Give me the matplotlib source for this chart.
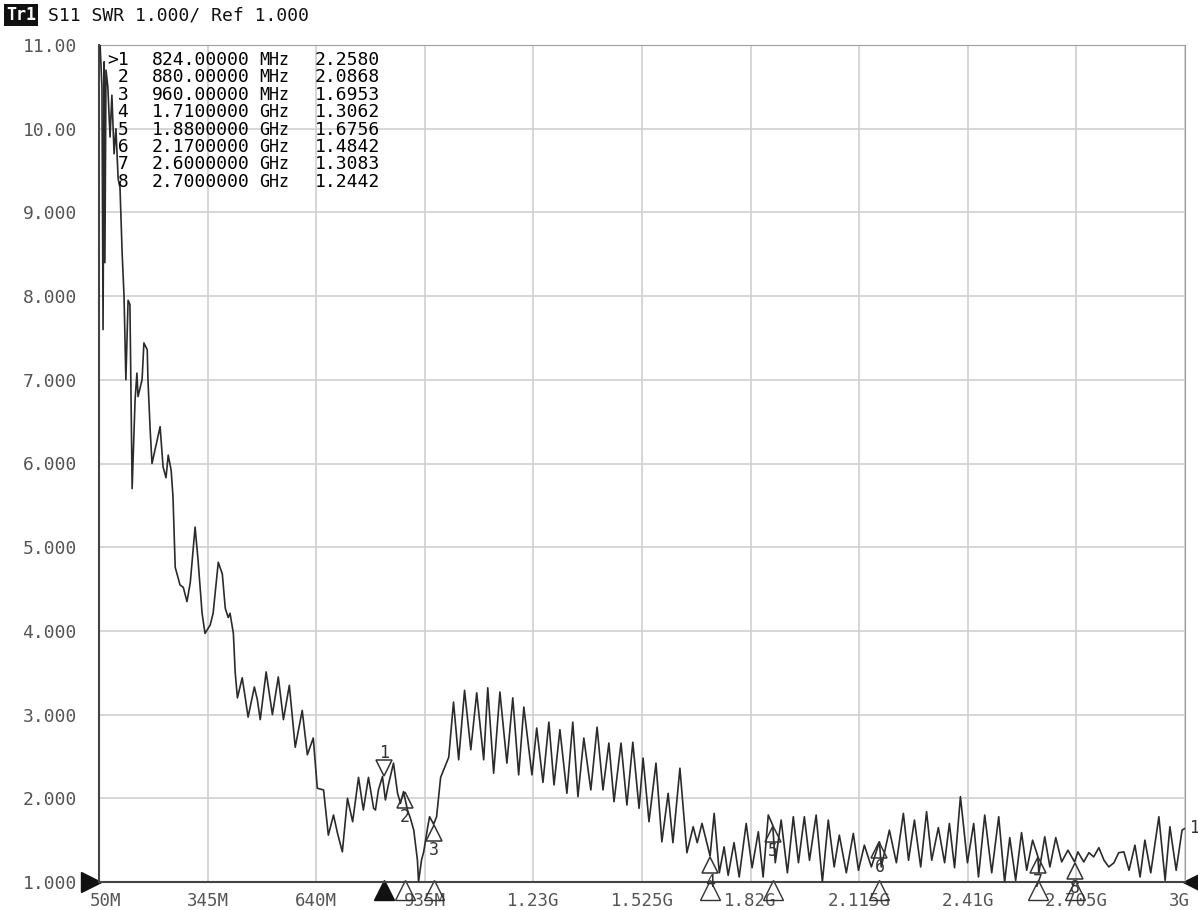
import matplotlib
matplotlib.use("Agg")
import matplotlib.pyplot as plt
from matplotlib import transforms

# S11 SWR trace (frequency in MHz)
freq_mhz = [
    53, 58, 61, 64, 66, 69, 74, 80, 85, 91, 96, 102, 107, 113, 118, 123,
    129, 134, 140, 148, 153, 156, 167, 172, 181, 183, 189, 194, 202, 216,
    224, 232, 238, 246, 251, 257, 270, 279, 289, 298, 311, 319, 330, 338,
    352, 360, 374, 385, 393, 401, 406, 415, 420, 426, 439, 447, 455, 472,
    480, 488, 504, 521, 537, 551, 567, 583, 602, 616, 632, 643, 660, 673,
    687, 698, 711, 725, 739, 755, 768, 782, 796, 801, 809, 820, 828, 836,
    850, 861, 869, 877, 888, 896, 905, 915, 918, 926, 932, 943, 948, 959,
    967, 978, 989, 1000, 1013, 1027, 1043, 1060, 1076, 1095, 1106, 1122,
    1139, 1158, 1174, 1190, 1204, 1226, 1239, 1256, 1272, 1286, 1302, 1321,
    1337, 1351, 1367, 1386, 1403, 1419, 1435, 1449, 1468, 1484, 1500, 1517,
    1528, 1544, 1563, 1579, 1596, 1609, 1628, 1647, 1664, 1675, 1688, 1710,
    1721, 1735, 1748, 1759, 1775, 1789, 1808, 1824, 1841, 1854, 1868, 1880,
    1887, 1903, 1920, 1936, 1950, 1966, 1980, 1998, 2015, 2031, 2047, 2061,
    2080, 2099, 2113, 2129, 2148, 2170, 2175, 2197, 2216, 2235, 2249, 2265,
    2282, 2298, 2312, 2330, 2347, 2360, 2374, 2390, 2409, 2426, 2439, 2456,
    2475, 2494, 2510, 2524, 2540, 2556, 2570, 2586, 2600, 2603, 2619, 2633,
    2649, 2665, 2682, 2700, 2709, 2725, 2739, 2752, 2766, 2780, 2793, 2807,
    2820, 2834, 2848, 2864, 2878, 2891, 2907, 2929, 2946, 2959, 2976, 2992,
    3000,
]
swr = [
    11.0, 10.5, 7.6, 10.8, 8.4, 10.7, 10.5, 9.9, 10.4, 9.7, 10.0, 9.4, 9.3,
    8.5, 8.0, 7.0, 7.95, 7.9, 5.7, 6.76, 7.08, 6.8, 7.0, 7.44, 7.36, 7.0,
    6.4, 6.0, 6.16, 6.44, 5.96, 5.83, 6.1, 5.92, 5.6, 4.76, 4.55, 4.52,
    4.35, 4.58, 5.24, 4.85, 4.21, 3.97, 4.07, 4.21, 4.82, 4.68, 4.27, 4.16,
    4.21, 3.97, 3.50, 3.20, 3.44, 3.21, 2.97, 3.33, 3.18, 2.94, 3.51, 3.0,
    3.45, 2.94, 3.35, 2.61, 3.05, 2.52, 2.72, 2.12, 2.10, 1.56, 1.80, 1.58,
    1.36, 2.0, 1.72, 2.25, 1.86, 2.25, 1.88, 1.86, 2.1, 2.26, 1.98, 2.16,
    2.42, 2.06, 1.94, 2.08, 1.86, 1.76, 1.62, 1.26, 1.0, 1.26, 1.36, 1.66,
    1.78, 1.69, 1.78, 2.25, 2.37, 2.49, 3.15, 2.46, 3.29, 2.58, 3.26, 2.46,
    3.32, 2.30, 3.27, 2.42, 3.20, 2.28, 3.09, 2.28, 2.84, 2.19, 2.91, 2.16,
    2.82, 2.06, 2.91, 2.02, 2.72, 2.10, 2.85, 2.10, 2.66, 1.96, 2.66, 1.92,
    2.67, 1.88, 2.48, 1.72, 2.42, 1.48, 2.06, 1.47, 2.36, 1.35, 1.66, 1.47,
    1.70, 1.31, 1.82, 1.11, 1.42, 1.08, 1.47, 1.06, 1.70, 1.17, 1.60, 1.06,
    1.80, 1.68, 1.23, 1.74, 1.11, 1.78, 1.23, 1.78, 1.26, 1.80, 1.0, 1.74,
    1.18, 1.56, 1.11, 1.58, 1.14, 1.44, 1.18, 1.48, 1.18, 1.62, 1.23, 1.82,
    1.26, 1.74, 1.18, 1.84, 1.26, 1.65, 1.23, 1.70, 1.17, 2.02, 1.23, 1.70,
    1.06, 1.80, 1.11, 1.78, 1.0, 1.53, 1.02, 1.59, 1.14, 1.50, 1.31, 1.11,
    1.54, 1.18, 1.53, 1.24, 1.38, 1.24, 1.36, 1.24, 1.35, 1.30, 1.41, 1.26,
    1.18, 1.23, 1.35, 1.36, 1.14, 1.44, 1.06, 1.50, 1.11, 1.78, 1.02, 1.66,
    1.14, 1.62, 1.64,
]

marker_ids = [1, 2, 3, 4, 5, 6, 7, 8]
marker_freq = [824, 880, 960, 1710, 1880, 2170, 2600, 2700]
marker_swr = [2.2580, 2.0868, 1.6953, 1.3062, 1.6756, 1.4842, 1.3083, 1.2442]

x_ticks = [50, 345, 640, 935, 1230, 1525, 1820, 2115, 2410, 2705, 3000]
x_tick_labels = ["50M", "345M", "640M", "935M", "1.23G", "1.525G", "1.82G",
                 "2.115G", "2.41G", "2.705G", "3G"]
y_ticks = [1, 2, 3, 4, 5, 6, 7, 8, 9, 10, 11]
y_tick_labels = ["1.000", "2.000", "3.000", "4.000", "5.000", "6.000",
                 "7.000", "8.000", "9.000", "10.00", "11.00"]

MONO = "DejaVu Sans Mono"
W, H = 1198, 910


def fx(x):
    return x / W


def fy(y):
    return 1 - y / H


fig = plt.figure(figsize=(W / 100, H / 100), dpi=100)
ax = fig.add_axes([fx(99), fy(882), 1086 / W, 837 / H])

ax.plot(freq_mhz, swr, color="#2b2b2b", lw=1.2, zorder=3)

ax.set_xlim(50, 3000)
ax.set_ylim(1, 11)
ax.set_xticks(x_ticks)
ax.set_xticklabels(x_tick_labels, fontfamily=MONO, fontsize=12.5, color="#555555")
ax.set_yticks(y_ticks)
ax.set_yticklabels(y_tick_labels, fontfamily=MONO, fontsize=13, color="#555555")
ax.tick_params(axis="x", length=0, pad=7)
ax.tick_params(axis="y", length=0, pad=16)
ax.grid(True, color="#cfcfcf", lw=1.2)
for side in ["top", "right"]:
    ax.spines[side].set_color("#a0a0a0")
for side in ["left", "bottom"]:
    ax.spines[side].set_color("#444444")
    ax.spines[side].set_linewidth(1.5)

# first and last frequency labels sit inside the grid edges
xlabels = ax.get_xticklabels()
xlabels[0].set_ha("left")
xlabels[0].set_transform(xlabels[0].get_transform()
                         + transforms.ScaledTranslation(-0.09, 0, fig.dpi_scale_trans))
xlabels[-1].set_ha("right")
xlabels[-1].set_transform(xlabels[-1].get_transform()
                          + transforms.ScaledTranslation(0.05, 0, fig.dpi_scale_trans))

# markers on the trace: active marker 1 points down, the others point up
up = transforms.offset_copy(ax.transData, fig=fig, y=-9, units="dots")
dn = transforms.offset_copy(ax.transData, fig=fig, y=9, units="dots")
ax.plot(marker_freq[:1], marker_swr[:1], ls="none", marker="v", ms=12,
        mfc="none", mec="#333333", mew=1.1, transform=dn, zorder=4)
ax.plot(marker_freq[1:], marker_swr[1:], ls="none", marker="^", ms=12,
        mfc="none", mec="#333333", mew=1.1, transform=up, zorder=4)
for mid, f, s in zip(marker_ids, marker_freq, marker_swr):
    off = 24 if mid == 1 else -26
    ax.annotate(str(mid), (f, s), xytext=(0, off), textcoords="offset pixels",
                ha="center", va="center", fontfamily=MONO, fontsize=12,
                color="#333333", zorder=5)

# marker flags below the frequency axis
flag = transforms.offset_copy(ax.get_xaxis_transform(), fig=fig, y=-8, units="dots")
ax.plot(marker_freq[:1], [0], ls="none", marker="^", ms=15, mfc="#111111",
        mec="#111111", transform=flag, clip_on=False)
ax.plot(marker_freq[1:], [0] * (len(marker_freq) - 1), ls="none", marker="^",
        ms=15, mfc="none", mec="#333333", mew=1.0, transform=flag, clip_on=False)

# reference level arrows at both sides
left_ref = transforms.offset_copy(ax.get_yaxis_transform(), fig=fig, x=-8, units="dots")
ax.plot([0], [1], marker=">", ms=15, color="#111111", transform=left_ref, clip_on=False)
right_ref = transforms.offset_copy(ax.get_yaxis_transform(), fig=fig, x=8, units="dots")
ax.plot([1], [1], marker="<", ms=15, color="#111111", transform=right_ref, clip_on=False)
ax.annotate("1", (freq_mhz[-1], swr[-1]), xytext=(4, 0), textcoords="offset pixels",
            ha="left", va="center", fontfamily=MONO, fontsize=12, color="#333333",
            annotation_clip=False)

# marker readout table
for i, (mid, f, s) in enumerate(zip(marker_ids, marker_freq, marker_swr)):
    if f < 1000:
        ftxt, unit = f"{f:.5f}", "MHz"
    else:
        ftxt, unit = f"{f / 1000:.7f}", "GHz"
    ypx = 60 + i * 17.4
    tag = f">{mid}" if mid == 1 else f" {mid}"
    fig.text(fx(107), fy(ypx), tag, fontfamily=MONO, fontsize=13, va="center")
    fig.text(fx(152), fy(ypx), ftxt, fontfamily=MONO, fontsize=13, va="center")
    fig.text(fx(259), fy(ypx), unit, fontfamily=MONO, fontsize=12, va="center")
    fig.text(fx(315), fy(ypx), f"{s:.4f}", fontfamily=MONO, fontsize=13, va="center")

# channel header
fig.text(fx(6), fy(15), "Tr1", fontfamily=MONO, fontsize=12, color="white",
         va="center", fontweight="bold",
         bbox=dict(facecolor="#111111", edgecolor="none", pad=1.5))
fig.text(fx(48), fy(15), "S11 SWR 1.000/ Ref 1.000", fontfamily=MONO,
         fontsize=13, va="center", color="#111111")

fig.savefig("out.png", dpi=100, facecolor="white")
